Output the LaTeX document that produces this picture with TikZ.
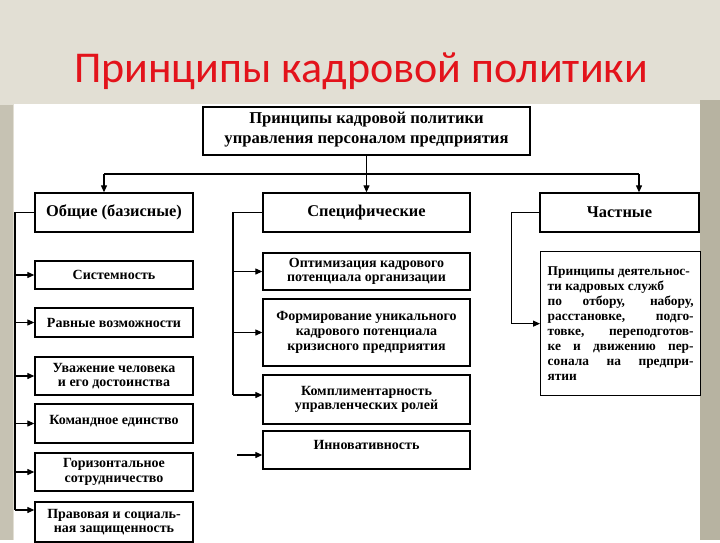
\documentclass[tikz,border=0pt]{standalone}
\usepackage{fontspec}
\setmainfont{Liberation Serif}
\newfontfamily\titlefont{Carlito}
\usetikzlibrary{arrows.meta, positioning}
\definecolor{slidebg}{HTML}{E2DFD4}
\definecolor{slidestrip}{HTML}{C6C2B3}
\definecolor{slideedge}{HTML}{B7B3A1}
\definecolor{titlered}{HTML}{E3131B}
\tikzset{
  box/.style={
    rectangle, draw=black, fill=white, line width=1.3pt,
    font=\bfseries\fontsize{14}{14.6}\selectfont, align=center, inner sep=2pt
  },
  headbox/.style={box, font=\bfseries\fontsize{16.4}{18}\selectfont},
  leftbox/.style={box, minimum width=158pt},
  midbox/.style={box, minimum width=207pt},
  arrow/.style={-{Triangle[length=7pt, width=6pt]}, line width=1.1pt},
  link/.style={line width=1.1pt},
}

\begin{document}
\begin{tikzpicture}[x=1pt, y=-1pt]

% slide background
\fill[slidebg] (0,0) rectangle (720,540);
\fill[slidestrip] (0,105) rectangle (13,540);
\fill[slideedge] (700,100) rectangle (720,540);
\fill[white] (14,104) rectangle (700,540);

\node[font=\titlefont\fontsize{44}{52}\selectfont, text=titlered, anchor=base] (title) at (361,83) {Принципы кадровой политики};

% top level
\node[box, minimum width=327pt, minimum height=48pt, text depth=6pt, font=\bfseries\fontsize{16.6}{20}\selectfont] (root) at (366.5,131)
  {Принципы кадровой политики\\управления персоналом предприятия};

% groups
\node[headbox, minimum width=158pt, minimum height=39pt] (gen) at (114,212.5) {Общие (базисные)};
\node[headbox, minimum width=207pt, minimum height=39pt] (spec) at (366.5,212.5) {Специфические};
\node[headbox, minimum width=159pt, minimum height=39pt] (part) at (619.5,212.5) {Частные};

\coordinate (busL) at (104,174);
\coordinate (busR) at (639,174);
\draw[link] (busL) -- (busR);
\draw[arrow] (busL) -- (busL |- gen.north);
\draw[arrow] (busR) -- (busR |- part.north);
\draw[arrow] (root.south) -- (spec.north);

% general principles
\node[leftbox, minimum height=28pt] (sys) at (114,275) {Системность};
\node[leftbox, minimum height=29pt] (equal) at (114,322.5) {Равные возможности};
\node[leftbox, minimum height=38pt] (respect) at (114,376) {Уважение человека\\и его достоинства};
\node[leftbox, minimum height=39pt, text depth=8pt] (team) at (114,423.5) {Командное единство};
\node[leftbox, minimum height=38pt] (horiz) at (114,472) {Горизонтальное\\сотрудничество};
\node[leftbox, minimum height=40pt] (law) at (114,522) {Правовая и социаль-\\ная защищенность};

\coordinate (genend) at (15,510);
\draw[link] (gen.west) -| (genend);
\foreach \n in {sys, equal, respect, team, horiz}
  \draw[arrow] (genend |- \n.west) -- (\n.west);
\draw[arrow] (genend) -- (genend -| law.west);

% specific principles
\node[midbox, minimum height=37pt] (optim) at (366.5,271.5) {Оптимизация кадрового\\потенциала организации};
\node[midbox, minimum height=67pt] (unique) at (366.5,332.5) {Формирование уникального\\кадрового потенциала\\кризисного предприятия};
\node[midbox, minimum height=49pt] (compl) at (366.5,399.5) {Комплиментарность\\управленческих ролей};
\node[midbox, minimum height=38pt, text depth=10pt] (innov) at (366.5,450) {Инновативность};

\coordinate (specend) at (233,395);
\draw[link] (spec.west) -| (specend);
\foreach \n in {optim, unique}
  \draw[arrow] (specend |- \n.west) -- (\n.west);
\draw[arrow] (specend) -- (specend -| compl.west);
\coordinate (innovtail) at (237,455);
\draw[arrow] (innovtail) -- (innovtail -| innov.west);

% particular principles
\node[box, minimum width=160pt, minimum height=144pt, inner xsep=6pt,
  align=left, anchor=north west, font=\bfseries\fontsize{13.4}{15.1}\selectfont] (activ) at (540,251)
  {Принципы деятельнос-\\
   ти кадровых служб\\
   \makebox[146pt][s]{по отбору, набору,}\\
   \makebox[146pt][s]{расстановке, подго-}\\
   \makebox[146pt][s]{товке, переподготов-}\\
   \makebox[146pt][s]{ке и движению пер-}\\
   \makebox[146pt][s]{сонала на предпри-}\\
   ятии};
\draw[arrow] (part.west) -- ++(-28,0) |- (activ.west);

\end{tikzpicture}
\end{document}
